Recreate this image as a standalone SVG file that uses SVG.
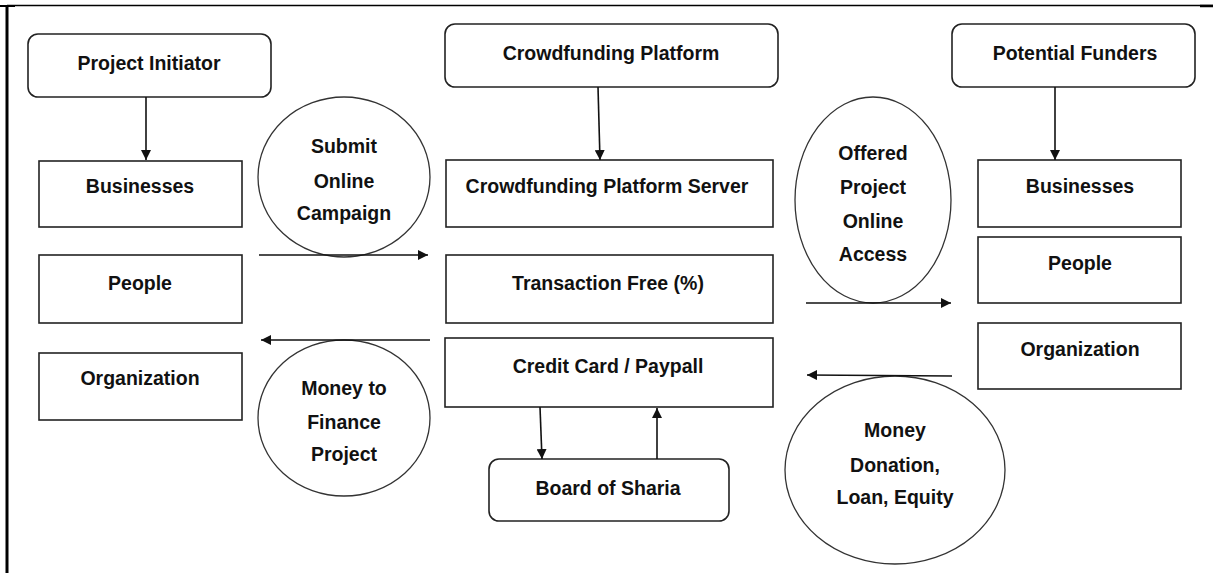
<svg xmlns="http://www.w3.org/2000/svg" width="1213" height="573" viewBox="0 0 1213 573">
<style>
.box{fill:#fff;stroke:#222;stroke-width:1.6}
.ell{fill:#fff;stroke:#333;stroke-width:1.3}
.t{font-family:"Liberation Sans",Arial,sans-serif;font-weight:bold;font-size:19.5px;fill:#111;text-anchor:middle}
.c{stroke:#111;stroke-width:1.6;fill:none;marker-end:url(#ah)}
.frame{stroke:#000;fill:none}
</style>
<defs>
<marker id="ah" viewBox="0 0 10 10" refX="10" refY="5" markerWidth="10" markerHeight="10" markerUnits="userSpaceOnUse" orient="auto">
<path d="M0,0 L10,5 L0,10 z" fill="#111"/>
</marker>
</defs>
<g id="frame">
<line class="frame" x1="7" y1="5.5" x2="1213" y2="5.5" stroke-width="1.5"/>
<line class="frame" x1="7" y1="5" x2="7" y2="573" stroke-width="3"/>
<line class="frame" x1="0" y1="6" x2="15" y2="6" stroke-width="2"/>
<line class="frame" x1="1200" y1="6" x2="1213" y2="6" stroke-width="2.5"/>
</g>
<g id="submit"><ellipse class="ell" cx="344" cy="177" rx="86" ry="80"/><text class="t" x="344" y="153">Submit</text><text class="t" x="344" y="188">Online</text><text class="t" x="344" y="220">Campaign</text></g>
<g id="moneyFinance"><ellipse class="ell" cx="344" cy="418" rx="86" ry="78"/><text class="t" x="344" y="395">Money to</text><text class="t" x="344" y="429">Finance</text><text class="t" x="344" y="461">Project</text></g>
<g id="offered"><ellipse class="ell" cx="873" cy="200" rx="78" ry="103"/><text class="t" x="873" y="160">Offered</text><text class="t" x="873" y="194">Project</text><text class="t" x="873" y="228">Online</text><text class="t" x="873" y="261">Access</text></g>
<g id="moneyDonation"><ellipse class="ell" cx="895" cy="470" rx="110" ry="94"/><text class="t" x="895" y="437">Money</text><text class="t" x="895" y="472">Donation,</text><text class="t" x="895" y="504">Loan, Equity</text></g>
<g id="projectInitiator"><rect class="box" x="28" y="34" width="243" height="63" rx="10"/><text class="t" x="149" y="70">Project Initiator</text></g>
<g id="businessesL"><rect class="box" x="39" y="161" width="203" height="66"/><text class="t" x="140" y="193">Businesses</text></g>
<g id="peopleL"><rect class="box" x="39" y="255" width="203" height="68"/><text class="t" x="140" y="290">People</text></g>
<g id="organizationL"><rect class="box" x="39" y="353" width="203" height="67"/><text class="t" x="140" y="385">Organization</text></g>
<g id="crowdPlatform"><rect class="box" x="445" y="24" width="333" height="63" rx="10"/><text class="t" x="611" y="60">Crowdfunding Platform</text></g>
<g id="server"><rect class="box" x="446" y="160" width="327" height="67"/><text class="t" x="607" y="193">Crowdfunding Platform Server</text></g>
<g id="transaction"><rect class="box" x="446" y="255" width="327" height="68"/><text class="t" x="608" y="290">Transaction Free (%)</text></g>
<g id="creditCard"><rect class="box" x="445" y="338" width="328" height="69"/><text class="t" x="608" y="373">Credit Card / Paypall</text></g>
<g id="sharia"><rect class="box" x="489" y="459" width="240" height="62" rx="10"/><text class="t" x="608" y="495">Board of Sharia</text></g>
<g id="funders"><rect class="box" x="952" y="24" width="243" height="63" rx="10"/><text class="t" x="1075" y="60">Potential Funders</text></g>
<g id="businessesR"><rect class="box" x="978" y="160" width="203" height="67"/><text class="t" x="1080" y="193">Businesses</text></g>
<g id="peopleR"><rect class="box" x="978" y="237" width="203" height="66"/><text class="t" x="1080" y="270">People</text></g>
<g id="organizationR"><rect class="box" x="978" y="323" width="203" height="66"/><text class="t" x="1080" y="356">Organization</text></g>
<g id="connectors">
<line class="c" x1="146" y1="97" x2="146" y2="160"/>
<line class="c" x1="598" y1="87" x2="600" y2="160"/>
<line class="c" x1="1055" y1="87" x2="1055" y2="160"/>
<line class="c" x1="259" y1="255" x2="428" y2="255"/>
<line class="c" x1="430" y1="340" x2="261" y2="340"/>
<line class="c" x1="806" y1="303" x2="951" y2="303"/>
<line class="c" x1="952" y1="376" x2="807" y2="375"/>
<line class="c" x1="540" y1="407" x2="542" y2="459"/>
<line class="c" x1="657" y1="459" x2="657" y2="408"/>
</g>
</svg>
